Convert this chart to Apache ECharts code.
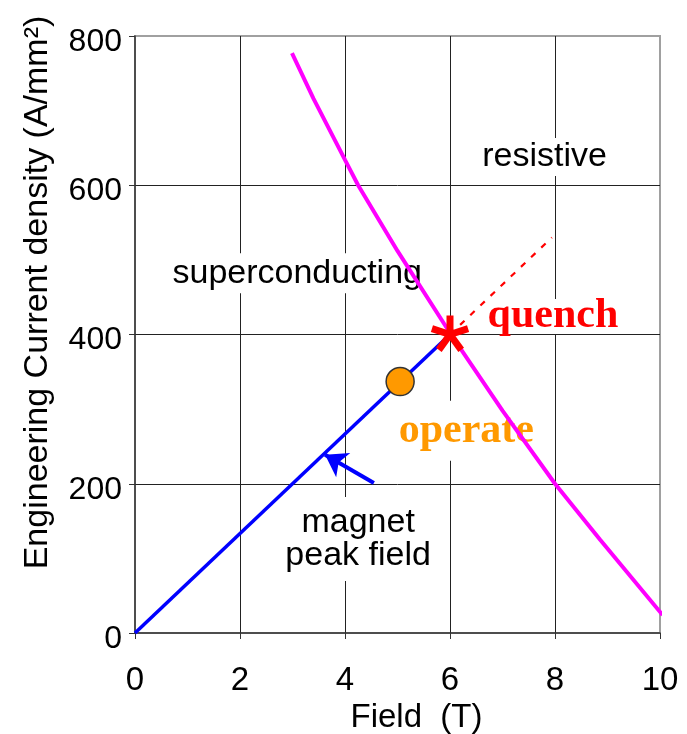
<!DOCTYPE html>
<html>
<head>
<meta charset="utf-8">
<script src="https://cdn.jsdelivr.net/npm/echarts@6/dist/echarts.min.js"></script>
<style>
  html, body { margin: 0; padding: 0; background: #fff; }
  #chart { width: 687px; height: 734px; }
</style>
</head>
<body>
<div id="chart"></div>
<script>
// Axis ticks
const fieldTicks = [0, 2, 4, 6, 8, 10];
const jeTicks = [0, 200, 400, 600, 800];

// Critical current line (boundary between superconducting and resistive)
const critField = [2.99, 3.4, 4.0, 4.25, 5.0, 6.0, 7.0, 8.0, 8.86, 10.05];
const critJe    = [777, 716, 634, 600, 512, 402, 298, 200, 125, 24];

// Magnet load line: current density vs peak field
const loadField = [0, 6];
const loadJe    = [0, 400];

// Load line continued past the quench point
const extField = [6, 7.94];
const extJe    = [400, 530];

// Operating point and quench point
const operatePoint = [5.05, 337];
const quenchPoint  = [6, 400];

// Arrow pointing at the load line (tail, head)
const arrowField = [4.55, 3.62];
const arrowJe    = [201, 239];

// Region and point annotations
const noteText  = ['resistive', 'superconducting', 'magnet\npeak field', 'quench', 'operate'];
const noteField = [7.80, 3.09, 4.25, 7.96, 6.31];
const noteJe    = [638, 482, 126, 424, 271];

const sans = "'Liberation Sans', Arial, sans-serif";
const serif = "'Liberation Serif', 'Times New Roman', serif";

const noteStyles = [
  { fontFamily: sans, fontSize: 34, color: '#000', lineHeight: 38 },
  { fontFamily: sans, fontSize: 34, color: '#000', lineHeight: 40 },
  { fontFamily: sans, fontSize: 34, color: '#000', lineHeight: 33, padding: [12, 0, 6, 0] },
  { fontFamily: serif, fontSize: 42, fontWeight: 'bold', color: '#ff0000', lineHeight: 35 },
  { fontFamily: serif, fontSize: 42, fontWeight: 'bold', color: '#ff9900', lineHeight: 42, padding: [9, 0, 9, 0] }
];

const pairs = (xs, ys) => xs.map((x, i) => [x, ys[i]]);

const chart = echarts.init(document.getElementById('chart'), null, { renderer: 'canvas' });

// Five-armed asterisk drawn around a data point
function renderStar(params, api) {
  const c = api.coord([api.value(0), api.value(1)]);
  const L = 19, w = 7;
  const angles = [90, 162, 18, 234, 306];
  const children = angles.map(a => {
    const r = a * Math.PI / 180;
    const dx = Math.cos(r), dy = -Math.sin(r);
    const px = -dy * w / 2, py = dx * w / 2;
    return {
      type: 'polygon',
      shape: { points: [
        [c[0] + px, c[1] + py],
        [c[0] + dx * L + px, c[1] + dy * L + py],
        [c[0] + dx * L - px, c[1] + dy * L - py],
        [c[0] - px, c[1] - py]
      ] },
      style: { fill: '#ff0000' }
    };
  });
  return { type: 'group', children };
}

const option = {
  backgroundColor: '#fff',
  animation: false,
  grid: {
    left: 135, right: 27, top: 36, bottom: 101,
    containLabel: false,
    outerBoundsMode: 'none',
    show: true, borderColor: '#a0a0a0', borderWidth: 2, backgroundColor: 'transparent'
  },
  xAxis: {
    type: 'value',
    min: fieldTicks[0], max: fieldTicks[fieldTicks.length - 1], interval: 2,
    name: 'Field  (T)',
    nameLocation: 'middle',
    nameGap: 84,
    nameTextStyle: { fontFamily: sans, fontSize: 33, color: '#000', padding: [0, 0, 0, 38], verticalAlign: 'middle' },
    axisLine: { show: true, onZero: false, lineStyle: { color: '#333', width: 1.5 } },
    axisTick: { show: true, inside: false, length: 6, lineStyle: { color: '#333', width: 1 } },
    axisLabel: { fontFamily: sans, fontSize: 33, color: '#000', margin: 31 },
    splitLine: { show: true, showMinLine: false, showMaxLine: false, lineStyle: { color: '#222', width: 1 } }
  },
  yAxis: {
    type: 'value',
    min: jeTicks[0], max: jeTicks[jeTicks.length - 1], interval: 200,
    name: 'Engineering Current density (A/mm²)',
    nameLocation: 'middle',
    nameGap: 97,
    nameRotate: 90,
    nameTextStyle: { fontFamily: sans, fontSize: 34, color: '#000', padding: [0, 0, 0, 84], verticalAlign: 'middle' },
    axisLine: { show: true, onZero: false, lineStyle: { color: '#333', width: 1.5 } },
    axisTick: { show: true, inside: false, length: 6, lineStyle: { color: '#333', width: 1 } },
    axisLabel: { fontFamily: sans, fontSize: 32, color: '#000', margin: 13, verticalAlign: 'top', lineHeight: 12 },
    splitLine: { show: true, showMinLine: false, showMaxLine: false, lineStyle: { color: '#222', width: 1 } }
  },
  series: [
    {
      // annotation texts with white boxes that cover the grid
      type: 'scatter',
      z: 1,
      symbolSize: 1,
      itemStyle: { color: 'rgba(255,255,255,0)', opacity: 1 },
      silent: true,
      data: noteText.map((t, i) => ({
        value: [noteField[i], noteJe[i]],
        name: t,
        label: Object.assign({
          show: true, position: 'inside', formatter: '{b}',
          align: 'center', verticalAlign: 'middle',
          backgroundColor: '#fff', opacity: 1
        }, noteStyles[i])
      }))
    },
    {
      type: 'line',
      z: 3,
      clip: false,
      data: pairs(critField, critJe),
      showSymbol: false,
      symbol: 'none',
      lineStyle: { color: '#ff00ff', width: 4 }
    },
    {
      type: 'line',
      z: 3,
      data: pairs(extField, extJe),
      symbol: 'none',
      lineStyle: { color: '#ff0000', width: 2.2, type: [6, 8] }
    },
    {
      type: 'line',
      z: 4,
      clip: false,
      data: pairs(loadField, loadJe),
      symbol: 'none',
      lineStyle: { color: '#0000ff', width: 3.5 }
    },
    {
      type: 'lines',
      coordinateSystem: 'cartesian2d',
      z: 4,
      symbol: ['none', 'arrow'],
      symbolSize: 21,
      lineStyle: { color: '#0000ff', width: 4, curveness: 0, opacity: 1 },
      data: [{ coords: pairs(arrowField, arrowJe) }]
    },
    {
      type: 'scatter',
      z: 5,
      data: [operatePoint],
      symbol: 'circle',
      symbolSize: 28,
      itemStyle: { color: '#ff9900', borderColor: '#333', borderWidth: 1.5, opacity: 1 }
    },
    {
      type: 'custom',
      z: 6,
      renderItem: renderStar,
      data: [quenchPoint]
    }
  ]
};

chart.setOption(option);
</script>
</body>
</html>
